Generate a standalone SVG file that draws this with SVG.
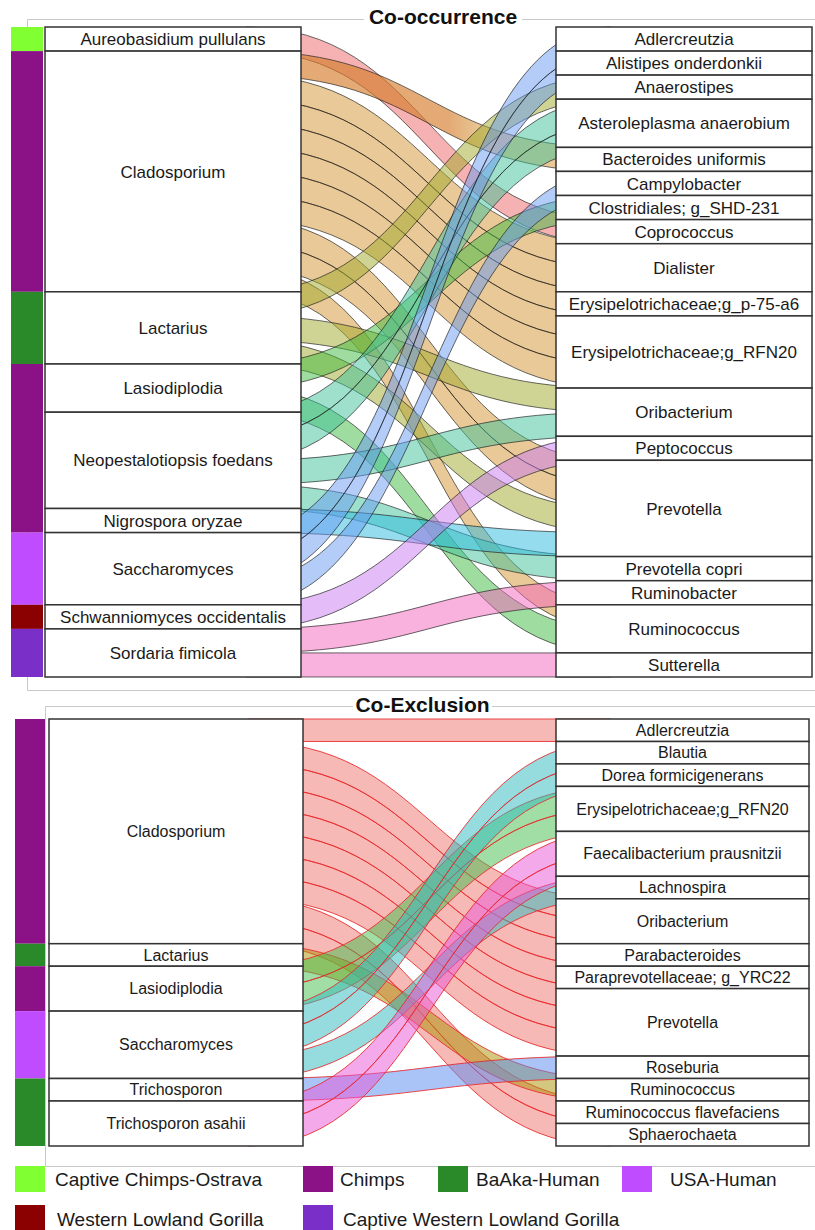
<svg xmlns="http://www.w3.org/2000/svg" width="815" height="1230" viewBox="0 0 815 1230">
<defs>
<linearGradient id="og" gradientUnits="userSpaceOnUse" x1="301" y1="0" x2="556" y2="0">
<stop offset="0" stop-color="#d67c2a" stop-opacity=".65"/>
<stop offset=".58" stop-color="#d67c2a" stop-opacity=".65"/>
<stop offset=".72" stop-color="#d1932f" stop-opacity=".5"/>
<stop offset="1" stop-color="#d1932f" stop-opacity=".5"/>
</linearGradient>
</defs>
<style>
.frame{fill:none;stroke:#c8c8c8;stroke-width:1}
.title{font-family:"Liberation Sans",Arial,sans-serif;font-weight:bold;font-size:21px;text-anchor:middle;fill:#111}
.lt path{stroke:#1a1a1a;stroke-opacity:.65;stroke-width:1;fill-opacity:.5}
.lt path.o{fill:url(#og);fill-opacity:1}
.lb path{stroke:#e8282a;stroke-opacity:.85;stroke-width:1;fill-opacity:.5}
.node rect{fill:#fff;stroke:#333;stroke-width:1.5}
.node text{font-family:"Liberation Sans",Arial,sans-serif;text-anchor:middle;fill:#1a1a1a}
.tp text{font-size:17px}
.bt text{font-size:16px}
.leg text{font-family:"Liberation Sans",Arial,sans-serif;font-size:19px;fill:#1a1a1a}
.a{fill:#ed6565}.c{fill:#d1932f}.l{fill:#9fa929}.g{fill:#3fb93f}.n{fill:#3dc199}.y{fill:#2bb9df}.s{fill:#6799f1}.w{fill:#c979f1}.f{fill:#f363bd}
.C{fill:#ef736d}.L{fill:#a98f00}.G{fill:#41bd4b}.T{fill:#2db9bd}.P{fill:#e955d5}.B{fill:#5589f1}
.k1{fill:#80ff33}.k2{fill:#8b1187}.k3{fill:#2a8a2a}.k4{fill:#bf4cff}.k5{fill:#8b0000}.k6{fill:#7b2fc9}
</style>

<g id="frames">
<path class="frame" d="M27.5,690.5 V19.5 H364 M522,19.5 H815 M27.5,690.5 H815"/>
<path class="frame" d="M45.5,1166.5 V706.5 H353 M492,706.5 H815 M45.5,1166.5 H815"/>
<text class="title" x="443" y="24">Co-occurrence</text>
<text class="title" x="422.5" y="712">Co-Exclusion</text>
</g>

<g id="connectors-top" class="lt">
<path class="a" d="M246,27 c182.5,0 182.5,192.6 365,192.6 v24.07 c-182.5,0 -182.5,-192.6 -365,-192.6z"/>
<path class="o" d="M246,51.1 c182.5,0 182.5,96.3 365,96.3 v24.07 c-182.5,0 -182.5,-96.3 -365,-96.3z"/>
<path class="c" d="M246,75.1 c182.5,0 182.5,168.6 365,168.6 v24.07 c-182.5,0 -182.5,-168.6 -365,-168.6z"/>
<path class="c" d="M246,99.2 c182.5,0 182.5,168.5 365,168.5 v24.07 c-182.5,0 -182.5,-168.5 -365,-168.5z"/>
<path class="c" d="M246,123.3 c182.5,0 182.5,168.5 365,168.5 v24.07 c-182.5,0 -182.5,-168.5 -365,-168.5z"/>
<path class="c" d="M246,147.4 c182.5,0 182.5,168.5 365,168.5 v24.07 c-182.5,0 -182.5,-168.5 -365,-168.5z"/>
<path class="c" d="M246,171.4 c182.5,0 182.5,168.6 365,168.6 v24.07 c-182.5,0 -182.5,-168.6 -365,-168.6z"/>
<path class="c" d="M246,195.5 c182.5,0 182.5,168.5 365,168.5 v24.07 c-182.5,0 -182.5,-168.5 -365,-168.5z"/>
<path class="c" d="M246,219.6 c182.5,0 182.5,240.7 365,240.7 v24.07 c-182.5,0 -182.5,-240.7 -365,-240.7z"/>
<path class="c" d="M246,243.7 c182.5,0 182.5,240.7 365,240.7 v24.07 c-182.5,0 -182.5,-240.7 -365,-240.7z"/>
<path class="c" d="M246,267.7 c182.5,0 182.5,337.1 365,337.1 v24.07 c-182.5,0 -182.5,-337.1 -365,-337.1z"/>
<path class="l" d="M246,291.8 c182.5,0 182.5,-216.7 365,-216.7 v24.07 c-182.5,0 -182.5,216.7 -365,216.7z"/>
<path class="l" d="M246,315.9 c182.5,0 182.5,72.2 365,72.2 v24.07 c-182.5,0 -182.5,-72.2 -365,-72.2z"/>
<path class="l" d="M246,340 c182.5,0 182.5,168.5 365,168.5 v24.07 c-182.5,0 -182.5,-168.5 -365,-168.5z"/>
<path class="g" d="M246,364 c182.5,0 182.5,-168.5 365,-168.5 v24.07 c-182.5,0 -182.5,168.5 -365,168.5z"/>
<path class="g" d="M246,388.1 c182.5,0 182.5,240.8 365,240.8 v24.07 c-182.5,0 -182.5,-240.8 -365,-240.8z"/>
<path class="n" d="M246,412.2 c182.5,0 182.5,-313 365,-313 v24.07 c-182.5,0 -182.5,313 -365,313z"/>
<path class="n" d="M246,436.3 c182.5,0 182.5,-313 365,-313 v24.07 c-182.5,0 -182.5,313 -365,313z"/>
<path class="n" d="M246,460.3 c182.5,0 182.5,-48.1 365,-48.1 v24.07 c-182.5,0 -182.5,48.1 -365,48.1z"/>
<path class="n" d="M246,484.4 c182.5,0 182.5,72.2 365,72.2 v24.07 c-182.5,0 -182.5,-72.2 -365,-72.2z"/>
<path class="y" d="M246,508.5 c182.5,0 182.5,24.1 365,24.1 v24.07 c-182.5,0 -182.5,-24.1 -365,-24.1z"/>
<path class="s" d="M246,532.6 c182.5,0 182.5,-505.6 365,-505.6 v24.07 c-182.5,0 -182.5,505.6 -365,505.6z"/>
<path class="s" d="M246,556.6 c182.5,0 182.5,-505.5 365,-505.5 v24.07 c-182.5,0 -182.5,505.5 -365,505.5z"/>
<path class="s" d="M246,580.7 c182.5,0 182.5,-409.3 365,-409.3 v24.07 c-182.5,0 -182.5,409.3 -365,409.3z"/>
<path class="w" d="M246,604.8 c182.5,0 182.5,-168.5 365,-168.5 v24.07 c-182.5,0 -182.5,168.5 -365,168.5z"/>
<path class="f" d="M246,628.9 c182.5,0 182.5,-48.2 365,-48.2 v24.07 c-182.5,0 -182.5,48.2 -365,48.2z"/>
<path class="f" d="M246,652.9 h365 v24.07 h-365z"/>
</g>

<g id="connectors-bottom" class="lb">
<path class="C" d="M248,719 h363 v22.47 h-363z"/>
<path class="C" d="M248,741.5 c181.5,0 181.5,157.3 363,157.3 v22.47 c-181.5,0 -181.5,-157.3 -363,-157.3z"/>
<path class="C" d="M248,763.9 c181.5,0 181.5,157.3 363,157.3 v22.47 c-181.5,0 -181.5,-157.3 -363,-157.3z"/>
<path class="C" d="M248,786.4 c181.5,0 181.5,157.3 363,157.3 v22.47 c-181.5,0 -181.5,-157.3 -363,-157.3z"/>
<path class="C" d="M248,808.9 c181.5,0 181.5,157.3 363,157.3 v22.47 c-181.5,0 -181.5,-157.3 -363,-157.3z"/>
<path class="C" d="M248,831.4 c181.5,0 181.5,157.2 363,157.2 v22.47 c-181.5,0 -181.5,-157.2 -363,-157.2z"/>
<path class="C" d="M248,853.8 c181.5,0 181.5,157.3 363,157.3 v22.47 c-181.5,0 -181.5,-157.3 -363,-157.3z"/>
<path class="C" d="M248,876.3 c181.5,0 181.5,157.3 363,157.3 v22.47 c-181.5,0 -181.5,-157.3 -363,-157.3z"/>
<path class="C" d="M248,898.8 c181.5,0 181.5,202.2 363,202.2 v22.47 c-181.5,0 -181.5,-202.2 -363,-202.2z"/>
<path class="C" d="M248,921.2 c181.5,0 181.5,202.3 363,202.3 v22.47 c-181.5,0 -181.5,-202.3 -363,-202.3z"/>
<path class="L" d="M248,943.7 c181.5,0 181.5,134.8 363,134.8 v22.47 c-181.5,0 -181.5,-134.8 -363,-134.8z"/>
<path class="G" d="M248,966.2 c181.5,0 181.5,-179.8 363,-179.8 v22.47 c-181.5,0 -181.5,179.8 -363,179.8z"/>
<path class="G" d="M248,988.6 c181.5,0 181.5,-179.7 363,-179.7 v22.47 c-181.5,0 -181.5,179.7 -363,179.7z"/>
<path class="T" d="M248,1011.1 c181.5,0 181.5,-269.6 363,-269.6 v22.47 c-181.5,0 -181.5,269.6 -363,269.6z"/>
<path class="T" d="M248,1033.6 c181.5,0 181.5,-269.7 363,-269.7 v22.47 c-181.5,0 -181.5,269.7 -363,269.7z"/>
<path class="T" d="M248,1056.1 c181.5,0 181.5,-179.8 363,-179.8 v22.47 c-181.5,0 -181.5,179.8 -363,179.8z"/>
<path class="B" d="M248,1078.5 c181.5,0 181.5,-22.4 363,-22.4 v22.47 c-181.5,0 -181.5,22.4 -363,22.4z"/>
<path class="P" d="M248,1101 c181.5,0 181.5,-269.6 363,-269.6 v22.47 c-181.5,0 -181.5,269.6 -363,269.6z"/>
<path class="P" d="M248,1123.5 c181.5,0 181.5,-269.7 363,-269.7 v22.47 c-181.5,0 -181.5,269.7 -363,269.7z"/>
</g>

<g id="group-bars">
<rect class="k1" x="11" y="27" width="32" height="24.1"/>
<rect class="k2" x="11" y="51.1" width="32" height="240.7"/>
<rect class="k3" x="11" y="291.8" width="32" height="72.2"/>
<rect class="k2" x="11" y="364" width="32" height="168.6"/>
<rect class="k4" x="11" y="532.6" width="32" height="72.2"/>
<rect class="k5" x="11" y="604.8" width="32" height="24.1"/>
<rect class="k6" x="11" y="628.9" width="32" height="48.1"/>
<rect class="k2" x="15" y="719" width="30" height="224.7"/>
<rect class="k3" x="15" y="943.7" width="30" height="22.5"/>
<rect class="k2" x="15" y="966.2" width="30" height="44.9"/>
<rect class="k4" x="15" y="1011.1" width="30" height="67.4"/>
<rect class="k3" x="15" y="1078.5" width="30" height="67.5"/>
</g>

<g class="tp">
<g id="t-aureobasidium" class="node"><rect x="45" y="27" width="256" height="24.1"/><text x="173" y="45">Aureobasidium pullulans</text></g>
<g id="t-cladosporium" class="node"><rect x="45" y="51.1" width="256" height="240.7"/><text x="173" y="177.5">Cladosporium</text></g>
<g id="t-lactarius" class="node"><rect x="45" y="291.8" width="256" height="72.2"/><text x="173" y="334">Lactarius</text></g>
<g id="t-lasiodiplodia" class="node"><rect x="45" y="364" width="256" height="48.2"/><text x="173" y="394">Lasiodiplodia</text></g>
<g id="t-neopestalotiopsis" class="node"><rect x="45" y="412.2" width="256" height="96.3"/><text x="173" y="466.4">Neopestalotiopsis foedans</text></g>
<g id="t-nigrospora" class="node"><rect x="45" y="508.5" width="256" height="24.1"/><text x="173" y="526.6">Nigrospora oryzae</text></g>
<g id="t-saccharomyces" class="node"><rect x="45" y="532.6" width="256" height="72.2"/><text x="173" y="574.7">Saccharomyces</text></g>
<g id="t-schwanniomyces" class="node"><rect x="45" y="604.8" width="256" height="24.1"/><text x="173" y="622.9">Schwanniomyces occidentalis</text></g>
<g id="t-sordaria" class="node"><rect x="45" y="628.9" width="256" height="48.1"/><text x="173" y="659">Sordaria fimicola</text></g>

<g id="t-adlercreutzia" class="node"><rect x="556" y="27" width="256" height="24.1"/><text x="684" y="45">Adlercreutzia</text></g>
<g id="t-alistipes" class="node"><rect x="556" y="51.1" width="256" height="24"/><text x="684" y="69.1">Alistipes onderdonkii</text></g>
<g id="t-anaerostipes" class="node"><rect x="556" y="75.1" width="256" height="24.1"/><text x="684" y="93.2">Anaerostipes</text></g>
<g id="t-asteroleplasma" class="node"><rect x="556" y="99.2" width="256" height="48.2"/><text x="684" y="129.3">Asteroleplasma anaerobium</text></g>
<g id="t-bacteroides" class="node"><rect x="556" y="147.4" width="256" height="24"/><text x="684" y="165.4">Bacteroides uniformis</text></g>
<g id="t-campylobacter" class="node"><rect x="556" y="171.4" width="256" height="24.1"/><text x="684" y="189.5">Campylobacter</text></g>
<g id="t-clostridiales" class="node"><rect x="556" y="195.5" width="256" height="24.1"/><text x="684" y="213.6">Clostridiales; g_SHD-231</text></g>
<g id="t-coprococcus" class="node"><rect x="556" y="219.6" width="256" height="24.1"/><text x="684" y="237.7">Coprococcus</text></g>
<g id="t-dialister" class="node"><rect x="556" y="243.7" width="256" height="48.1"/><text x="684" y="273.8">Dialister</text></g>
<g id="t-erysip-p75" class="node"><rect x="556" y="291.8" width="256" height="24.1"/><text x="684" y="309.9">Erysipelotrichaceae;g_p-75-a6</text></g>
<g id="t-erysip-rfn20" class="node"><rect x="556" y="315.9" width="256" height="72.2"/><text x="684" y="358">Erysipelotrichaceae;g_RFN20</text></g>
<g id="t-oribacterium" class="node"><rect x="556" y="388.1" width="256" height="48.2"/><text x="684" y="418.2">Oribacterium</text></g>
<g id="t-peptococcus" class="node"><rect x="556" y="436.3" width="256" height="24"/><text x="684" y="454.3">Peptococcus</text></g>
<g id="t-prevotella" class="node"><rect x="556" y="460.3" width="256" height="96.3"/><text x="684" y="514.5">Prevotella</text></g>
<g id="t-prevotella-copri" class="node"><rect x="556" y="556.6" width="256" height="24.1"/><text x="684" y="574.7">Prevotella copri</text></g>
<g id="t-ruminobacter" class="node"><rect x="556" y="580.7" width="256" height="24.1"/><text x="684" y="598.8">Ruminobacter</text></g>
<g id="t-ruminococcus" class="node"><rect x="556" y="604.8" width="256" height="48.1"/><text x="684" y="634.9">Ruminococcus</text></g>
<g id="t-sutterella" class="node"><rect x="556" y="652.9" width="256" height="24.1"/><text x="684" y="671">Sutterella</text></g>
</g>

<g class="bt">
<g id="b-cladosporium" class="node"><rect x="49" y="719" width="254" height="224.7"/><text x="176" y="836.9">Cladosporium</text></g>
<g id="b-lactarius" class="node"><rect x="49" y="943.7" width="254" height="22.5"/><text x="176" y="960.5">Lactarius</text></g>
<g id="b-lasiodiplodia" class="node"><rect x="49" y="966.2" width="254" height="44.9"/><text x="176" y="994.2">Lasiodiplodia</text></g>
<g id="b-saccharomyces" class="node"><rect x="49" y="1011.1" width="254" height="67.4"/><text x="176" y="1050.4">Saccharomyces</text></g>
<g id="b-trichosporon" class="node"><rect x="49" y="1078.5" width="254" height="22.5"/><text x="176" y="1095.3">Trichosporon</text></g>
<g id="b-trichosporon-asahii" class="node"><rect x="49" y="1101" width="254" height="45"/><text x="176" y="1129.1">Trichosporon asahii</text></g>

<g id="b-adlercreutzia" class="node"><rect x="556" y="719" width="253" height="22.5"/><text x="682.5" y="735.8">Adlercreutzia</text></g>
<g id="b-blautia" class="node"><rect x="556" y="741.5" width="253" height="22.4"/><text x="682.5" y="758.3">Blautia</text></g>
<g id="b-dorea" class="node"><rect x="556" y="763.9" width="253" height="22.5"/><text x="682.5" y="780.7">Dorea formicigenerans</text></g>
<g id="b-erysip-rfn20" class="node"><rect x="556" y="786.4" width="253" height="45"/><text x="682.5" y="814.5">Erysipelotrichaceae;g_RFN20</text></g>
<g id="b-faecalibacterium" class="node"><rect x="556" y="831.4" width="253" height="44.9"/><text x="682.5" y="859.4">Faecalibacterium prausnitzii</text></g>
<g id="b-lachnospira" class="node"><rect x="556" y="876.3" width="253" height="22.5"/><text x="682.5" y="893.1">Lachnospira</text></g>
<g id="b-oribacterium" class="node"><rect x="556" y="898.8" width="253" height="44.9"/><text x="682.5" y="926.8">Oribacterium</text></g>
<g id="b-parabacteroides" class="node"><rect x="556" y="943.7" width="253" height="22.5"/><text x="682.5" y="960.5">Parabacteroides</text></g>
<g id="b-paraprevotellaceae" class="node"><rect x="556" y="966.2" width="253" height="22.4"/><text x="682.5" y="983">Paraprevotellaceae; g_YRC22</text></g>
<g id="b-prevotella" class="node"><rect x="556" y="988.6" width="253" height="67.5"/><text x="682.5" y="1028">Prevotella</text></g>
<g id="b-roseburia" class="node"><rect x="556" y="1056.1" width="253" height="22.4"/><text x="682.5" y="1072.9">Roseburia</text></g>
<g id="b-ruminococcus" class="node"><rect x="556" y="1078.5" width="253" height="22.5"/><text x="682.5" y="1095.3">Ruminococcus</text></g>
<g id="b-ruminococcus-flav" class="node"><rect x="556" y="1101" width="253" height="22.5"/><text x="682.5" y="1117.8">Ruminococcus flavefaciens</text></g>
<g id="b-sphaerochaeta" class="node"><rect x="556" y="1123.5" width="253" height="22.5"/><text x="682.5" y="1140.3">Sphaerochaeta</text></g>
</g>

<g id="legend" class="leg">
<rect class="k1" x="15" y="1166" width="30" height="26"/><text x="55" y="1186">Captive Chimps-Ostrava</text>
<rect class="k2" x="303" y="1166" width="30" height="26"/><text x="340" y="1186">Chimps</text>
<rect class="k3" x="438" y="1166" width="30" height="26"/><text x="476" y="1186">BaAka-Human</text>
<rect class="k4" x="622" y="1166" width="30" height="26"/><text x="670" y="1186">USA-Human</text>
<rect class="k5" x="15" y="1205" width="30" height="26"/><text x="57" y="1226">Western Lowland Gorilla</text>
<rect class="k6" x="303" y="1205" width="30" height="26"/><text x="343" y="1226">Captive Western Lowland Gorilla</text>
</g>
</svg>
